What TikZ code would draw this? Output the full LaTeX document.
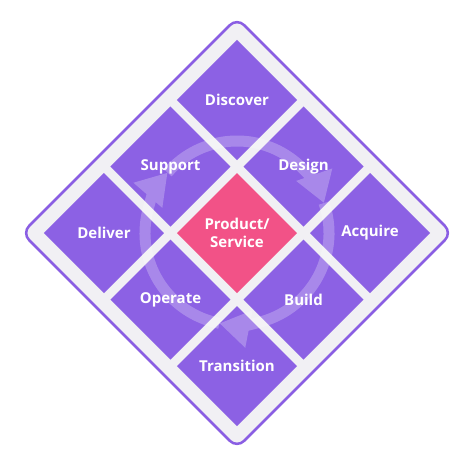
\documentclass[tikz,border=0pt]{standalone}
\usepackage{fontspec}
\setmainfont{Open Sans}
\usetikzlibrary{shapes.geometric, arrows.meta}
\definecolor{tilepurple}{HTML}{8C61E4}
\definecolor{framepurple}{HTML}{8A5EE3}
\definecolor{framegray}{HTML}{F1F0F4}
\definecolor{corepink}{HTML}{F25287}

\begin{document}
\begin{tikzpicture}[x=1pt, y=1pt,
  tile/.style={diamond, minimum width=120pt, minimum height=120pt, inner sep=0pt, outer sep=0pt,
    fill=tilepurple, text=white, align=center, font=\fontsize{15}{17.5}\selectfont\bfseries},
  coretile/.style={tile, fill=corepink},
  cyclering/.style={white, line width=11pt, -{Triangle[length=30pt, width=36pt]}}]
\newcommand{\WOfStep}{66.5}
\newcommand{\ROfRing}{92}
\useasboundingbox (-237,-233) rectangle (237,233);

% frame
\draw[framepurple, line width=2.5pt, fill=framegray, rounded corners=10pt]
  (107.5,107.5) -- (215,0) -- (0,-215) -- (-215,0) -- (0,215) -- cycle;

% tiles
\foreach \u/\v/\name/\lbl in
{0/2/discover/Discover, -1/1/support/Support, 1/1/design/Design,
 -2/0/deliver/Deliver, 2/0/acquire/Acquire,
 -1/-1/operate/Operate, 1/-1/build/Build, 0/-2/transition/Transition}
{
    \node[tile] (\name) at ({\u*\WOfStep}, {\v*\WOfStep}) {\lbl};
}
\node[coretile] (product) at (0,0) {Product/\\Service};

% cycle
\begin{scope}[transparency group, opacity=0.25]
\foreach \a in {139, 19, -101}
{
    \draw[cyclering] ({\a+120}:\ROfRing) arc[start angle={\a+120}, end angle=\a, radius=\ROfRing];
}
\end{scope}
\end{tikzpicture}
\end{document}
